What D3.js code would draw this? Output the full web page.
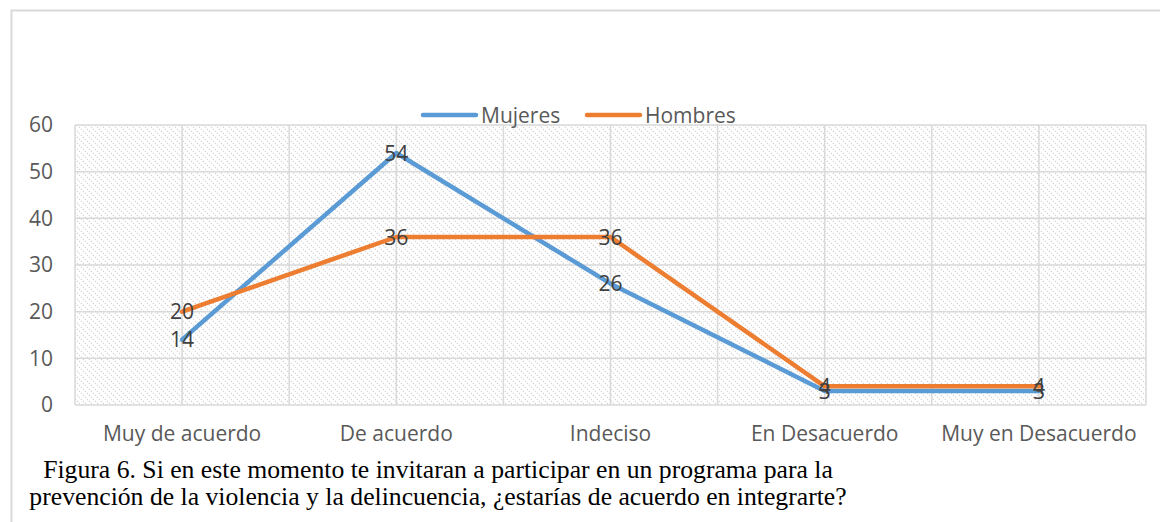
<!DOCTYPE html>
<html>
<head>
<meta charset="utf-8">
<script src="https://cdn.jsdelivr.net/npm/d3@7"></script>
<style>
  body { margin: 0; background: #fff; }
  svg { display: block; }
</style>
</head>
<body>
<div id="chart"></div>
<script>
const categories = ["Muy de acuerdo", "De acuerdo", "Indeciso", "En Desacuerdo", "Muy en Desacuerdo"];
const mujeres = [14, 54, 26, 3, 3];
const hombres = [20, 36, 36, 4, 4];
const yTicks = [0, 10, 20, 30, 40, 50, 60];
const seriesNames = ["Mujeres", "Hombres"];
const caption = [
    "Figura 6. Si en este momento te invitaran a participar en un programa para la",
    "prevención de la violencia y la delincuencia, ¿estarías de acuerdo en integrarte?"
];

const width = 1160;
const height = 522;
const margin = { left: 75, right: 14, top: 125, bottom: 117 };
const sans = "'Open Sans', sans-serif";
const fs = 21;

const svg = d3.select("#chart").append("svg").attr("width", width).attr("height", height);

// hatch fill like the Excel plot area
const defs = svg.append("defs");
const pat = defs.append("pattern")
    .attr("id", "hatch")
    .attr("patternUnits", "userSpaceOnUse")
    .attr("width", 6).attr("height", 6);
pat.append("path")
    .attr("d", "M-1,-1 L7,7 M-1,5 L1,7 M5,-1 L7,1")
    .attr("stroke", "#d2d2d2")
    .attr("stroke-width", 1.1)
    .attr("stroke-dasharray", "1.4,1.4");

// outer chart border (top and left visible)
svg.append("path")
    .attr("d", `M11.5,${height} L11.5,10.5 L${width},10.5`)
    .attr("fill", "none")
    .attr("stroke", "#d9d9d9")
    .attr("stroke-width", 2);

const x = d3.scaleBand().domain(categories)
    .range([margin.left, width - margin.right]);
const y = d3.scaleLinear().domain([0, 60])
    .range([height - margin.bottom, margin.top]);

const plot = svg.append("g");
plot.append("rect")
    .attr("x", margin.left).attr("y", margin.top)
    .attr("width", width - margin.right - margin.left)
    .attr("height", y(0) - y(60))
    .attr("fill", "url(#hatch)");

// horizontal gridlines
plot.selectAll(".hgrid")
    .data(yTicks)
    .enter()
    .append("line")
    .attr("x1", margin.left).attr("x2", width - margin.right)
    .attr("y1", d => y(d)).attr("y2", d => y(d))
    .attr("stroke", "#d9d9d9").attr("stroke-width", 1.5);

// vertical gridlines at band edges and centers
const vlines = [];
categories.forEach(c => {
    vlines.push(x(c));
    vlines.push(x(c) + x.bandwidth() / 2);
});
vlines.push(width - margin.right);
plot.selectAll(".vgrid")
    .data(vlines)
    .enter()
    .append("line")
    .attr("x1", d => d).attr("x2", d => d)
    .attr("y1", y(0)).attr("y2", y(60))
    .attr("stroke", "#d9d9d9").attr("stroke-width", 1.5);

// y axis labels
const yAxis = d3.axisLeft(y).tickValues(yTicks).tickSize(0).tickPadding(22);
svg.append("g")
    .attr("transform", `translate(${margin.left},0)`)
    .call(yAxis)
    .call(g => g.select(".domain").remove())
    .selectAll("text")
    .attr("font-family", sans)
    .attr("font-size", fs)
    .attr("fill", "#595959");

// x axis labels
const xAxis = d3.axisBottom(x).tickSize(0).tickPadding(21);
svg.append("g")
    .attr("transform", `translate(0,${y(0)})`)
    .call(xAxis)
    .call(g => g.select(".domain").remove())
    .selectAll("text")
    .attr("font-family", sans)
    .attr("font-size", fs)
    .attr("fill", "#595959");

const colors = ["#5b9bd5", "#ed7d31"];
const line = d3.line()
    .x((d, i) => x(categories[i]) + x.bandwidth() / 2)
    .y(d => y(d));

[mujeres, hombres].forEach((s, k) => {
    svg.append("path")
        .datum(s)
        .attr("d", line)
        .attr("fill", "none")
        .attr("stroke", colors[k])
        .attr("stroke-width", 4.5)
        .attr("stroke-linejoin", "round")
        .attr("stroke-linecap", "round");
});

// data labels, centered on points
[mujeres, hombres].forEach(s => {
    svg.append("g").selectAll("text")
        .data(s)
        .enter()
        .append("text")
        .attr("x", (d, i) => x(categories[i]) + x.bandwidth() / 2)
        .attr("y", d => y(d))
        .attr("dy", "0.36em")
        .attr("text-anchor", "middle")
        .attr("font-family", sans)
        .attr("font-size", fs)
        .attr("fill", "#404040")
        .text(d => d);
});

// legend
const legend = svg.append("g").attr("transform", "translate(423,115)");
const legendX = [0, 164];
seriesNames.forEach((name, k) => {
    const g = legend.append("g").attr("transform", `translate(${legendX[k]},0)`);
    g.append("line")
        .attr("x1", 0).attr("x2", 53)
        .attr("stroke", colors[k]).attr("stroke-width", 4.5)
        .attr("stroke-linecap", "round");
    g.append("text")
        .attr("x", 58).attr("dy", "0.36em")
        .attr("font-family", sans)
        .attr("font-size", fs)
        .attr("fill", "#595959")
        .text(name);
});

// caption
svg.append("g").selectAll("text")
    .data(caption)
    .enter()
    .append("text")
    .attr("x", 438)
    .attr("y", (d, i) => 478 + i * 27)
    .attr("text-anchor", "middle")
    .attr("font-family", "'Liberation Serif', 'Times New Roman', serif")
    .attr("font-size", 25.7)
    .attr("fill", "#000")
    .text(d => d);
</script>
</body>
</html>
